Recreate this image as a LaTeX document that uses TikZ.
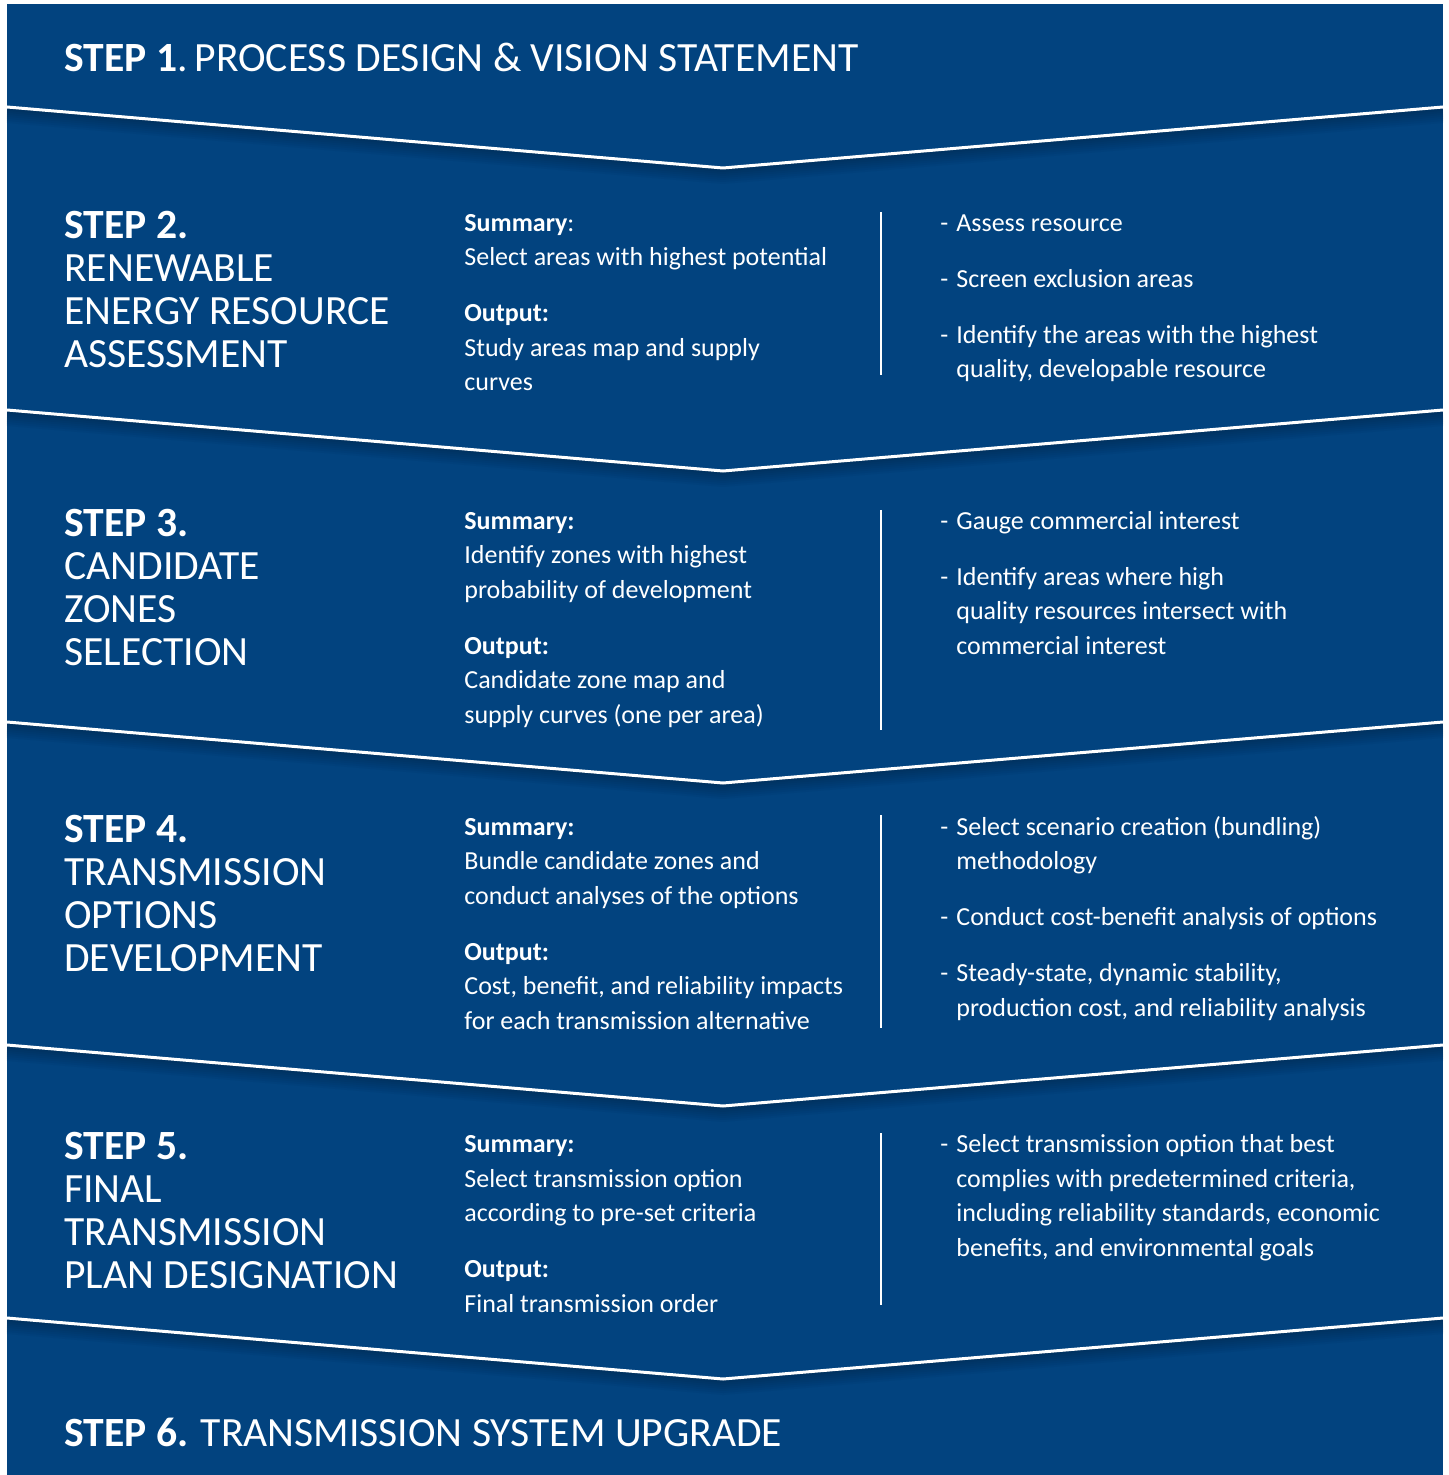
\documentclass[tikz,border=0pt]{standalone}
\usepackage{fontspec}
\setmainfont{Carlito}
\definecolor{planblue}{RGB}{2,67,127}
% nodes are anchored at the baseline of their last line
\tikzset{
  steptitle/.style={anchor=base west, inner sep=0pt, align=left, text=white,
    font=\fontsize{20.8}{21.5}\selectfont},
  colbody/.style={anchor=base west, inner sep=0pt, align=left, text=white,
    font=\fontsize{13}{17.25}\selectfont},
  chevron/.style={draw=white, line width=1.5pt},
  divider/.style={draw=white, line width=0.9pt}
}
\newcommand{\bul}{\makebox[8pt][l]{-}}
\newcommand{\hang}{\hspace*{8pt}}
\newcommand{\gap}{10.75pt}

\begin{document}
\begin{tikzpicture}[x=0.5pt,y=-0.5pt]
		%%%%% START %%%%%
		\useasboundingbox (0,0) rectangle (1448,1475);
		\fill[planblue] (7,4) rectangle (1443,1475);
		
		% chevron separators with soft shadow
		\foreach \y in {107,410,722,1045,1318}{
			\foreach \s in {2,4,...,16}
				\draw[black, opacity=0.03, line width=\s*0.5pt]
					(7,\y+\s/2) -- (723,\y+61+\s/2) -- (1443,\y+\s/2);
			\draw[chevron] (7,\y) -- (723,\y+61) -- (1443,\y);
		}
		
		% step 1
		\node[steptitle] (s1) at (64,72) {\textbf{STEP 1}.\,PROCESS DESIGN \& VISION STATEMENT};
		
		% step 2
		\node[steptitle] (s2) at (64,368) {\textbf{STEP 2.}\\RENEWABLE\\ENERGY RESOURCE\\ASSESSMENT};
		\node[colbody] (sum2) at (464,391) {\textbf{Summary}:\\Select areas with highest potential\\[\gap]%
			\textbf{Output:}\\Study areas map and supply\\curves};
		\node[colbody] (act2) at (940,378) {\bul Assess resource\\[\gap]%
			\bul Screen exclusion areas\\[\gap]%
			\bul Identify the areas with the highest\\\hang quality, developable resource};
		\draw[divider] (881,212) -- (881,375);
		
		% step 3
		\node[steptitle] (s3) at (64,665) {\textbf{STEP 3.}\\CANDIDATE\\ZONES\\SELECTION};
		\node[colbody] (sum3) at (464,723) {\textbf{Summary:}\\Identify zones with highest\\probability of development\\[\gap]%
			\textbf{Output:}\\Candidate zone map and\\supply curves (one per area)};
		\node[colbody] (act3) at (940,654) {\bul Gauge commercial interest\\[\gap]%
			\bul Identify areas where high\\\hang quality resources intersect with\\\hang commercial interest};
		\draw[divider] (881,510) -- (881,730);
		
		% step 4
		\node[steptitle] (s4) at (64,971) {\textbf{STEP 4.}\\TRANSMISSION\\OPTIONS\\DEVELOPMENT};
		\node[colbody] (sum4) at (464,1029) {\textbf{Summary:}\\Bundle candidate zones and\\conduct analyses of the options\\[\gap]%
			\textbf{Output:}\\Cost, benefit, and reliability impacts\\for each transmission alternative};
		\node[colbody] (act4) at (940,1016) {\bul Select scenario creation (bundling)\\\hang methodology\\[\gap]%
			\bul Conduct cost-benefit analysis of options\\[\gap]%
			\bul Steady-state, dynamic stability,\\\hang production cost, and reliability analysis};
		\draw[divider] (881,815) -- (881,1028);
		
		% step 5
		\node[steptitle] (s5) at (64,1288) {\textbf{STEP 5.}\\FINAL\\TRANSMISSION\\PLAN DESIGNATION};
		\node[colbody] (sum5) at (464,1312) {\textbf{Summary:}\\Select transmission option\\according to pre-set criteria\\[\gap]%
			\textbf{Output:}\\Final transmission order};
		\node[colbody] (act5) at (940,1256) {\bul Select transmission option that best\\\hang complies with predetermined criteria,\\%
			\hang including reliability standards, economic\\\hang benefits, and environmental goals};
		\draw[divider] (881,1133) -- (881,1305);
		
		% step 6
		\node[steptitle] (s6) at (64,1446) {\textbf{STEP 6.} TRANSMISSION SYSTEM UPGRADE};
		%%%%% END %%%%%
\end{tikzpicture}
\end{document}
